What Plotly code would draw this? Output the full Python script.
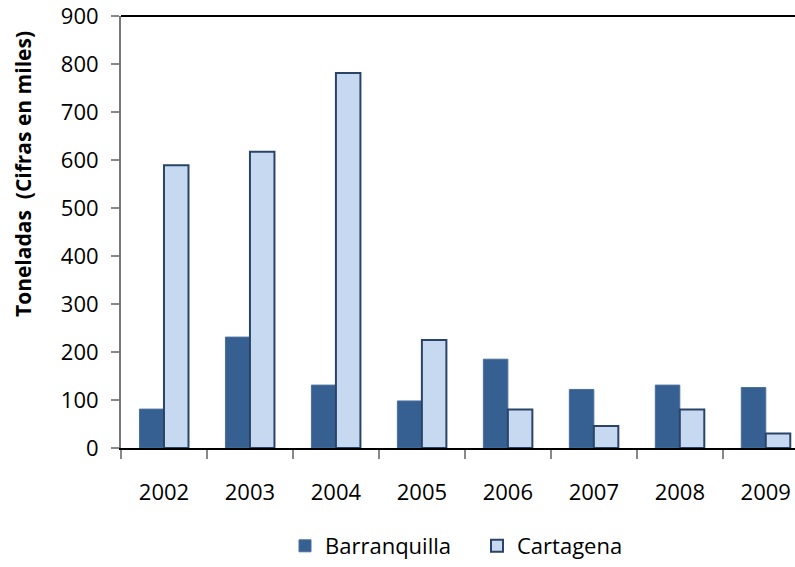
import plotly.graph_objects as go

years = ["2002", "2003", "2004", "2005", "2006", "2007", "2008", "2009"]
barranquilla = [81, 231, 131, 98, 185, 122, 131, 126]
cartagena = [589, 617, 781, 225, 80, 46, 80, 30]
y_ticks = [0, 100, 200, 300, 400, 500, 600, 700, 800, 900]

FONT = "'Open Sans', sans-serif"
L, T, R, B = 121, 16, 0, 119
W, H = 795, 567
PW, PH = W - L - R, H - T - B

fig = go.Figure()
fig.add_trace(go.Bar(
    x=years, y=barranquilla, name="Barranquilla",
    marker=dict(color="#376092", line=dict(color="#4a6f9c", width=1)),
))
fig.add_trace(go.Bar(
    x=years, y=cartagena, name="Cartagena",
    marker=dict(color="#C6D9F1", line=dict(color="#2a4468", width=2)),
))

fig.update_layout(
    width=W, height=H,
    margin=dict(l=L, r=R, t=T, b=B),
    paper_bgcolor="white", plot_bgcolor="white",
    barmode="group", bargap=0.43, bargroupgap=0,
    font=dict(family=FONT, size=22, color="black"),
    showlegend=True,
    legend=dict(orientation="h", x=(285 - L) / PW, xanchor="left",
                y=(H - B - 546) / PH, yanchor="middle",
                font=dict(size=22), itemwidth=30, entrywidth=147,
                traceorder="normal"),
    xaxis=dict(
        range=[-0.5, 7.34],
        showline=True, linecolor="black", linewidth=2,
        ticks="outside", tickson="boundaries", ticklen=9, tickcolor="#888888", tickwidth=2,
        showgrid=False, ticklabelstandoff=24,
        tickfont=dict(size=22),
    ),
    yaxis=dict(
        range=[0, 900], tickvals=y_ticks,
        showline=True, linecolor="#777777", linewidth=2,
        ticks="outside", ticklen=8, tickcolor="#888888", tickwidth=2,
        showgrid=False, zeroline=False, ticklabelstandoff=8,
        ticklabeloverflow="allow",
        tickfont=dict(size=22),
    ),
    annotations=[dict(
        text="<b>Toneladas  (Cifras en miles)</b>", textangle=-90,
        xref="paper", yref="paper", x=(23 - L) / PW, y=(H - B - 174) / PH,
        xanchor="center", yanchor="middle", showarrow=False,
        font=dict(size=21, family=FONT, color="black"),
    )],
    shapes=[dict(type="line", xref="paper", yref="paper", x0=0, x1=1, y0=1, y1=1,
                 line=dict(color="black", width=2))],
)

fig.write_html("out.html", config={"displayModeBar": False},
               post_script="document.body.style.margin='0';document.body.style.overflow='hidden';")
